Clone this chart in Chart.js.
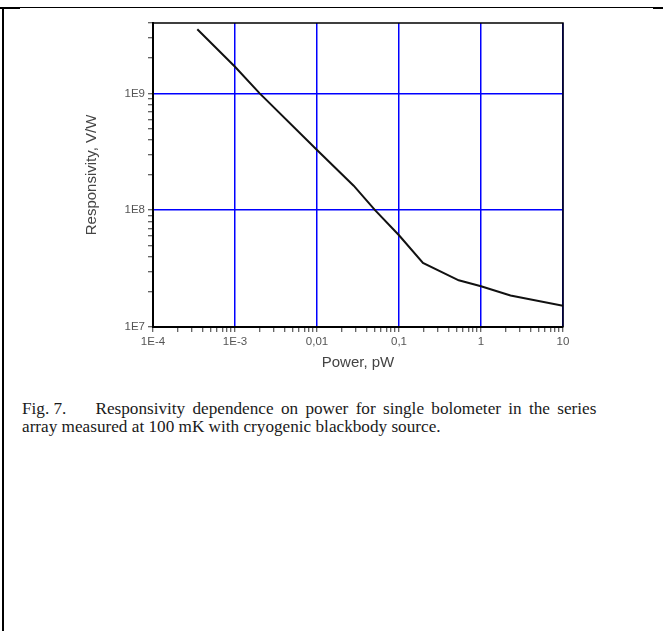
<!DOCTYPE html>
<html>
<head>
<meta charset="utf-8">
<script src="https://cdn.jsdelivr.net/npm/chart.js@4.4.1/dist/chart.umd.min.js"></script>
<style>
  html, body { margin: 0; padding: 0; background: #fff; }
  body { width: 663px; height: 631px; position: relative; overflow: hidden; }
  #wrap { position: absolute; left: 0; top: 0; width: 663px; height: 380px; }
  .frame-top { position: absolute; left: 0; top: 7px; width: 653px; height: 1px; background: #000; }
  .frame-tl { position: absolute; left: 0; top: 7px; width: 20px; height: 2px; background: #000; }
  .frame-tr { position: absolute; left: 653px; top: 7px; width: 10px; height: 2px; background: #000; }
  .frame-left { position: absolute; left: 2px; top: 7px; width: 2px; height: 624px; background: #000; }
  .caption {
    position: absolute; left: 22px; top: 400px; width: 640px; white-space: nowrap;
    font-family: "Liberation Serif", "Times New Roman", serif;
    font-size: 17.2px; line-height: 17.5px; color: #1a1a1a;
  }
  .gap { display: inline-block; width: 29px; }
  .just { word-spacing: 3px; }
</style>
</head>
<body>
<div class="frame-top"></div>
<div class="frame-tl"></div>
<div class="frame-tr"></div>
<div class="frame-left"></div>
<div id="wrap"><canvas id="chart"></canvas></div>
<div class="caption">Fig. 7.<span class="gap"></span><span class="just">Responsivity dependence on power for single bolometer in the series</span><br>array measured at 100 mK with cryogenic blackbody source.</div>

<script>
/* ===== Responsivity vs power — log/log line ===== */

const powerValues = [3.47e-4, 1e-3, 2.0e-3, 0.01, 0.028, 0.051, 0.1, 0.196, 0.535, 1, 2.29, 10];
const responsivityValues = [3.54e9, 1.69e9, 1.0e9, 3.27e8, 1.62e8, 1.0e8, 6.1e7, 3.53e7, 2.51e7, 2.23e7, 1.86e7, 1.52e7];

const xTickLabels = { '0.0001': '1E-4', '0.001': '1E-3', '0.01': '0,01', '0.1': '0,1', '1': '1', '10': '10' };
const yTickLabels = { '10000000': '1E7', '100000000': '1E8', '1000000000': '1E9' };

const X_MIN = 1e-4, X_MAX = 10;
const Y_MIN = 1e7, Y_MAX = 4e9;

// major + minor ticks for one log range
function logTicks(min, max) {
    const ticks = [];
    let dec = Math.floor(Math.log10(min));
    while (Math.pow(10, dec) <= max * 1.0001) {
        for (let m = 1; m <= 9; m++) {
            const v = Number((m * Math.pow(10, dec)).toPrecision(6));
            if (v >= min * 0.9999 && v <= max * 1.0001) ticks.push({ value: v, major: m === 1 });
        }
        dec++;
    }
    return ticks;
}

const isMajor = (v) => Math.abs(Math.log10(v) - Math.round(Math.log10(v))) < 1e-6;
const labelFor = (table, v) => {
    if (!isMajor(v)) return '';
    const key = String(Number(Math.pow(10, Math.round(Math.log10(v))).toPrecision(6)));
    return table[key] || '';
};

const frameBox = {
    id: 'frameBox',
    afterDraw(chart) {
        const { ctx, chartArea: a } = chart;
        ctx.save();
        ctx.strokeStyle = '#000';
        ctx.lineWidth = 1.5;
        ctx.beginPath();
        ctx.moveTo(a.left, a.top);
        ctx.lineTo(a.right, a.top);
        ctx.lineTo(a.right, a.bottom);
        ctx.stroke();
        ctx.restore();
    }
};

const tickFont = { family: 'Liberation Sans, Arial, sans-serif', size: 11.5 };
const titleFont = { family: 'Liberation Sans, Arial, sans-serif', size: 15 };

const ctx = document.getElementById('chart').getContext('2d');

new Chart(ctx, {
    type: 'line',
    data: {
        datasets: [{
            data: powerValues.map((p, i) => ({ x: p, y: responsivityValues[i] })),
            borderColor: '#111',
            borderWidth: 2,
            pointRadius: 0,
            tension: 0,
            fill: false
        }]
    },
    options: {
        responsive: true,
        maintainAspectRatio: false,
        animation: false,
        layout: { padding: { top: 23, right: 100, left: 83, bottom: 0 } },
        plugins: {
            legend: { display: false },
            tooltip: { enabled: false }
        },
        scales: {
            x: {
                type: 'logarithmic',
                min: X_MIN,
                max: X_MAX,
                afterBuildTicks: (scale) => { scale.ticks = logTicks(X_MIN, X_MAX); },
                afterFit: (scale) => { scale.height = 53; },
                border: { color: '#000', width: 2 },
                grid: {
                    color: (c) => (c.tick && isMajor(c.tick.value)) ? '#0000ff' : 'rgba(0,0,0,0)',
                    lineWidth: 1.5,
                    tickColor: '#333',
                    tickLength: 5,
                    tickWidth: 1
                },
                ticks: {
                    autoSkip: false,
                    maxRotation: 0,
                    color: '#555',
                    padding: 3,
                    font: tickFont,
                    callback: (v) => labelFor(xTickLabels, v)
                },
                title: {
                    display: true,
                    text: 'Power, pW',
                    color: '#444',
                    padding: { top: 0, bottom: 8 },
                    font: titleFont
                }
            },
            y: {
                type: 'logarithmic',
                min: Y_MIN,
                max: Y_MAX,
                afterBuildTicks: (scale) => { scale.ticks = logTicks(Y_MIN, Y_MAX); },
                afterFit: (scale) => { scale.width = 70; },
                border: { color: '#000', width: 2 },
                grid: {
                    color: (c) => (c.tick && isMajor(c.tick.value)) ? '#0000ff' : 'rgba(0,0,0,0)',
                    lineWidth: 1.5,
                    tickColor: '#333',
                    tickLength: 5,
                    tickWidth: 1
                },
                ticks: {
                    autoSkip: false,
                    color: '#555',
                    padding: 3,
                    font: tickFont,
                    callback: (v) => labelFor(yTickLabels, v)
                },
                title: {
                    display: true,
                    text: 'Responsivity, V/W',
                    color: '#444',
                    padding: { top: 0, bottom: 0 },
                    font: titleFont
                }
            }
        }
    },
    plugins: [frameBox]
});
</script>
</body>
</html>
